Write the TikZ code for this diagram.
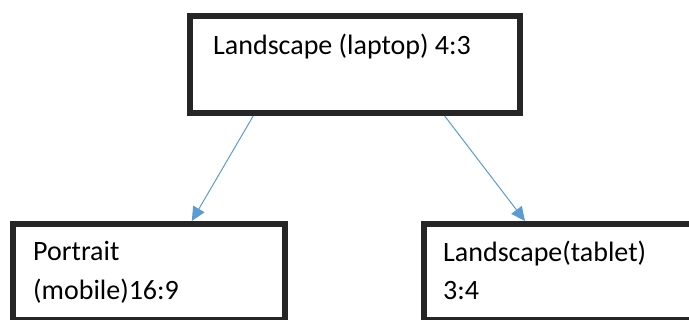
\documentclass[tikz,border=0pt]{standalone}
\usepackage{fontspec}
\setmainfont{Carlito}
\usetikzlibrary{arrows.meta, calc, positioning}
\definecolor{boxline}{HTML}{262626}
\definecolor{arrowblue}{HTML}{5B9BD5}
\tikzset{
    ratiobox/.style={draw=boxline, line width=6pt, fill=white, inner sep=0pt},
    boxtext/.style={anchor=base west, inner sep=0pt, align=left, font=\fontsize{28}{39}\selectfont},
    linkarrow/.style={draw=arrowblue, line width=1pt, -{Triangle[length=14pt, width=13pt]}}
}
\begin{document}
\begin{tikzpicture}[x=1pt, y=-1pt]
        \useasboundingbox (0, 0) rectangle (689, 320);
        % boxes
        \node[ratiobox, minimum width=330pt, minimum height=97pt, anchor=north west] (laptop) at (187, 13) {};
        \node[ratiobox, minimum width=272pt, minimum height=96pt, anchor=north west] (mobile) at (10, 221) {};
        \node[ratiobox, minimum width=279pt, minimum height=96pt, anchor=north west] (tablet) at (421, 221) {};
        % labels
        \node[boxtext] (laptoptext) at (213, 55) {Landscape (laptop) 4:3};
        \node[boxtext] (mobiletext) at (33, 261) {Portrait};
        \node[boxtext] (mobiletext2) at (33, 300) {(mobile)16:9};
        \node[boxtext] (tablettext) at (443, 262) {Landscape(tablet)};
        \node[boxtext] (tablettext2) at (443, 300) {3:4};
        % arrows
        \draw[linkarrow] ($(laptop.south west)!0.197!(laptop.south east)$) -- ($(mobile.north west)!0.654!(mobile.north east)$);
        \draw[linkarrow] ($(laptop.south west)!0.767!(laptop.south east)$) -- ($(tablet.north west)+(104, 0)$);
\end{tikzpicture}
\end{document}
